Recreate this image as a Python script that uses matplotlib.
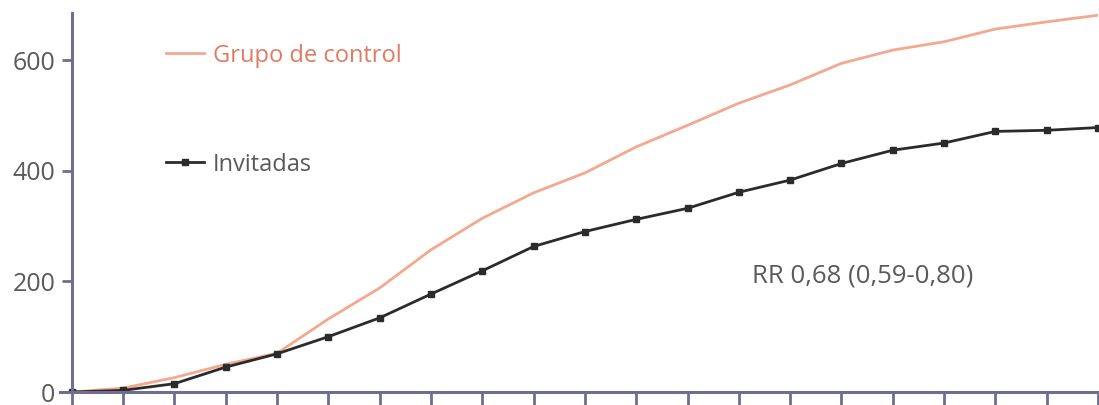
import matplotlib
matplotlib.use("Agg")
import matplotlib.pyplot as plt

# Cumulative cases per year of follow-up
years = list(range(21))
control = [0, 7, 26, 50, 70, 132, 188, 257, 314, 360, 396, 443, 482, 522,
           555, 594, 618, 633, 656, 669, 681]
invitadas = [0, 3, 15, 45, 69, 100, 134, 177, 219, 263, 290, 312, 332, 361,
             383, 413, 437, 450, 471, 473, 478]
yticks = [0, 200, 400, 600]
rr_label = "RR 0,68 (0,59-0,80)"

axis_col = "#6f6e8e"
label_col = "#5a5a5a"
control_col = "#f2a98f"
control_text = "#e27a62"
inv_col = "#2b2b2b"

plt.rcParams['font.family'] = ['Open Sans', 'DejaVu Sans']

fig = plt.figure(figsize=(10.99, 4.05), dpi=100)
ax = fig.add_axes([60 / 1099, 13 / 405, 1038 / 1099, 379 / 405])

l1, = ax.plot(years, control, color=control_col, lw=2.0, label="Grupo de control")
l2, = ax.plot(years, invitadas, color=inv_col, lw=2.0, marker="s", ms=3.8,
              label="Invitadas")

ax.set_xlim(-0.23, 20)
ax.set_ylim(0, 685)

for s in ("top", "right"):
    ax.spines[s].set_visible(False)
ax.spines["left"].set_position(("data", 0))
for s in ("left", "bottom"):
    ax.spines[s].set_color(axis_col)
    ax.spines[s].set_linewidth(2.2)

ax.set_xticks(years)
ax.set_xticklabels([])
ax.tick_params(axis="x", direction="out", length=12, width=2, color=axis_col)
ax.set_yticks(yticks)
ax.set_yticklabels([str(v) for v in yticks])
ax.tick_params(axis="y", direction="out", length=7, width=2, color=axis_col,
               labelsize=18, labelcolor=label_col, pad=5)

leg = ax.legend(handles=[l1, l2], loc="upper left", bbox_to_anchor=(0.082, 0.975),
                frameon=False, fontsize=17, handlelength=1.6, handletextpad=0.38,
                labelspacing=3.6)
leg.get_texts()[0].set_color(control_text)
leg.get_texts()[1].set_color(label_col)

ax.text(0.667, 0.305, rr_label, transform=ax.transAxes, fontsize=18.5,
        color=label_col, va="center", ha="left")

fig.savefig("out.png", dpi=100)
